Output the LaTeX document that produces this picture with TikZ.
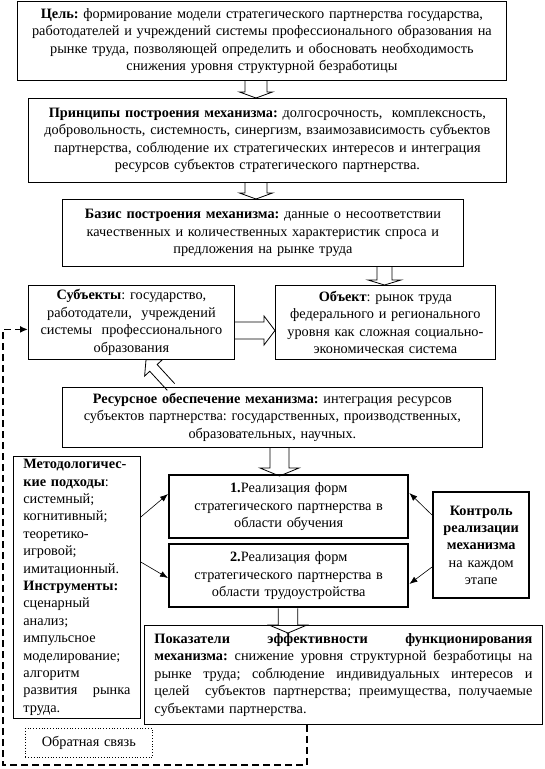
\documentclass[tikz,border=0pt]{standalone}
\usepackage{fontspec}
\setmainfont{Liberation Serif}
\usetikzlibrary{calc,arrows.meta}
\newcommand\dfont{\fontsize{14.3}{17.4}\selectfont\frenchspacing}
\newcommand\jline[2]{\makebox[#1][s]{\spaceskip=0.3333em plus 1fil minus 0.1em\xspaceskip=0.3333em plus 1fil minus 0.1em\relax #2}}
\newcommand\barrow[5]{%
  \coordinate (ba-s) at (#1);
  \coordinate (ba-e) at (#2);
  \coordinate (ba-h) at ($(ba-e)!#5!(ba-s)$);
  \draw[hollow] ($(ba-s)!#3!90:(ba-e)$) -- ($(ba-h)!#3!90:(ba-e)$) -- ($(ba-h)!#4!90:(ba-e)$) -- (ba-e) -- ($(ba-h)!#4!-90:(ba-e)$) -- ($(ba-h)!#3!-90:(ba-e)$) -- ($(ba-s)!#3!-90:(ba-e)$);
}
\begin{document}
\begin{tikzpicture}[x=1pt,y=-1pt,
  box/.style={draw, line width=0.8pt, inner sep=0pt, align=center, font=\dfont, anchor=north west},
  tbox/.style={box, line width=2.4pt},
  hollow/.style={draw, line width=0.8pt, line join=miter},
  thinarr/.style={line width=0.6pt, -{Latex[length=8pt,width=6pt]}},
  fbline/.style={line width=1.8pt, dash pattern=on 7pt off 4pt, -{Latex[length=8pt,width=7pt]}},
]
\useasboundingbox[fill=white] (0,0) rectangle (545,769);

\node[box, minimum width=489pt, minimum height=79pt, text width=484pt] (goal) at (17,1)
 {\textbf{Цель:} формирование модели стратегического партнерства государства,\\ работодателей и учреждений системы профессионального образования на\\ рынке труда, позволяющей определить и обосновать необходимость\\ снижения уровня структурной безработицы};

\node[box, minimum width=478pt, minimum height=84pt, text width=474pt] (princ) at (28,98)
 {\textbf{Принципы построения механизма:} долгосрочность,~ комплексность,\\ добровольность, системность, синергизм, взаимозависимость субъектов\\ партнерства, соблюдение их стратегических интересов и интеграция\\ ресурсов субъектов стратегического партнерства.};

\node[box, minimum width=401pt, minimum height=67pt, text width=397pt] (basis) at (62,199)
 {\textbf{Базис построения механизма:} данные о несоответствии\\ качественных и количественных характеристик спроса и\\ предложения на рынке труда};

\node[box, minimum width=206pt, minimum height=74pt, text width=202pt] (subj) at (28,285)
 {\textbf{Субъекты}: государство,\\ работодатели,~ учреждений\\ системы~ профессионального\\ образования};

\node[box, minimum width=220pt, minimum height=74pt, text width=216pt] (obj) at (275,285)
 {\textbf{Объект}: рынок труда\\ федерального и регионального\\ уровня как сложная социально-\\ экономическая система};

\node[box, minimum width=420pt, minimum height=60pt, text width=416pt] (res) at (62,387)
 {\textbf{Ресурсное обеспечение механизма:} интеграция ресурсов\\ субъектов партнерства: государственных, производственных,\\ образовательных, научных.};

\node[tbox, minimum width=239pt, minimum height=63pt, text width=232pt] (real1) at (168,474)
 {\textbf{1.}Реализация форм\\ стратегического партнерства в\\ области обучения};

\node[tbox, minimum width=239pt, minimum height=63pt, text width=232pt] (real2) at (168,543)
 {\textbf{2.}Реализация форм\\ стратегического партнерства в\\ области трудоустройства};

\node[box, align=left, minimum width=127pt, minimum height=262pt, text width=107pt] (meth) at (13,456)
 {\textbf{Методологичес-}\\ \textbf{кие подходы}:\\ системный;\\ когнитивный;\\ теоретико-\\ игровой;\\ имитационный.\\ \textbf{Инструменты:}\\ сценарный\\ анализ;\\ импульсное\\ моделирование;\\ алгоритм\\ \jline{107pt}{развития рынка}\\ труда.};

\node[tbox, minimum width=96pt, minimum height=106pt, text width=92pt] (ctrl) at (432,491)
 {\textbf{Контроль}\\ \textbf{реализации}\\ \textbf{механизма}\\ на каждом\\ этапе};

\node[box, align=left, minimum width=398pt, minimum height=99pt, text width=378pt] (ind) at (144,625)
 {\jline{378pt}{\textbf{Показатели эффективности функционирования}}\\
  \jline{378pt}{\textbf{механизма:} снижение уровня структурной безработицы на}\\
  \jline{378pt}{рынке труда; соблюдение индивидуальных интересов и}\\
  \jline{378pt}{целей~ субъектов партнерства; преимущества, получаемые}\\
  субъектами партнерства.};

\node[box, dotted, line width=0.6pt, minimum width=127pt, minimum height=29pt, text width=120pt] (fb) at (25,728)
 {Обратная связь};

% hollow block arrows
\coordinate (xa) at (256,0);
\coordinate (xb) at (384.5,0);
\barrow{goal.south -| xa}{princ.north -| xa}{11pt}{16.5pt}{6pt}
\barrow{princ.south -| xa}{basis.north -| xa}{11pt}{16.5pt}{6pt}
\barrow{basis.south -| xb}{obj.north -| xb}{7.5pt}{16.5pt}{5pt}
\barrow{subj.east |- 0,330.5}{obj.west |- 0,330.5}{8.5pt}{14.5pt}{11pt}
\barrow{res.north -| 171,0}{subj.south -| 146,0}{5pt}{12pt}{11pt}
\coordinate (t5) at ($(real1.north -| 279.5,0)+(0,2)$);
\barrow{res.south -| 279.5,0}{t5}{9.5pt}{19.5pt}{8pt}
\coordinate (t6) at ($(ind.north -| 288,0)+(0,8)$);
\barrow{real2.south -| 288,0}{t6}{9.7pt}{19pt}{8pt}

% thin arrows
\draw[thinarr] (meth.east |- 0,517) -- (real1.west |- 0,494);
\draw[thinarr] (meth.east |- 0,562) -- (real2.west |- 0,578);
\draw[thinarr] (ctrl.west |- 0,515) -- (real1.east |- 0,493);
\draw[thinarr] (ctrl.west |- 0,567) -- (real2.east |- 0,584);

% feedback dashed line
\coordinate (xf) at (307,0);
\coordinate (fbc) at (3,765);
\coordinate (fbt) at ($(subj.west)+(0,7)$);
\draw[fbline] (ind.south -| xf) |- (fbc) |- (fbt);
\end{tikzpicture}
\end{document}
